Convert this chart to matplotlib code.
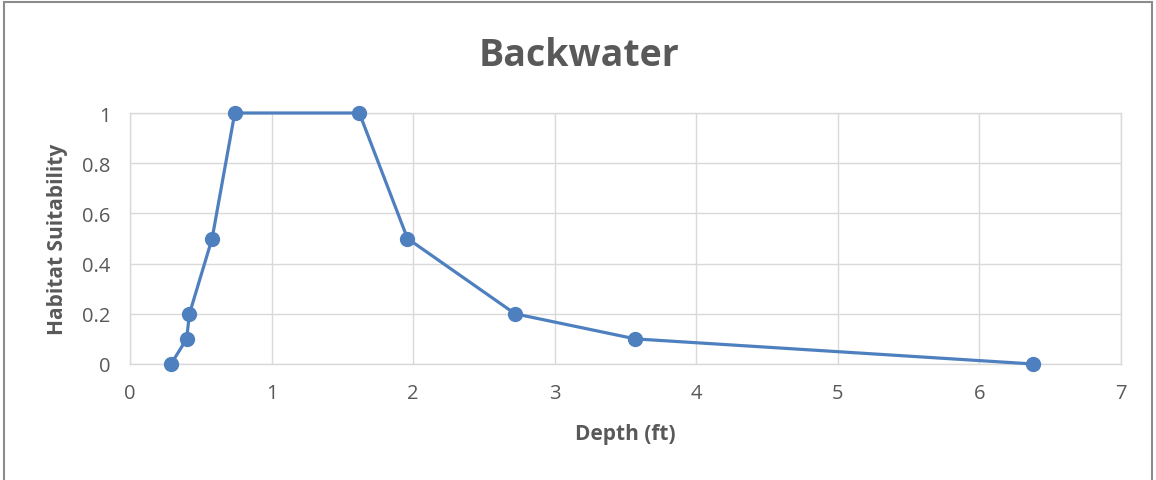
import matplotlib
matplotlib.use("Agg")
import matplotlib.pyplot as plt
from matplotlib.patches import Rectangle

# 수심 대비 서식 적합도 (Backwater)
depth_ft = [0.29, 0.40, 0.42, 0.58, 0.74, 1.62, 1.96, 2.72, 3.57, 6.38]
suitability = [0.0, 0.1, 0.2, 0.5, 1.0, 1.0, 0.5, 0.2, 0.1, 0.0]
x_ticks = [0, 1, 2, 3, 4, 5, 6, 7]
y_ticks = [0, 0.2, 0.4, 0.6, 0.8, 1]
y_tick_labels = ["0", "0.2", "0.4", "0.6", "0.8", "1"]

LINE_C = "#4E80BF"
INK = "#595959"
GRID_C = "#D9D9D9"

plt.rcParams["font.family"] = ["Open Sans", "DejaVu Sans"]

W, H = 1156, 481
fig = plt.figure(figsize=(W / 100, H / 100), dpi=100, facecolor="white")
ax = fig.add_axes([130 / W, 1 - 365 / H, (1121 - 130) / W, (365 - 114) / H])

# 바깥 테두리 (하단은 잘린 상태)
fig.patches.append(Rectangle((4 / W, -0.05), (1152 - 4) / W, 1.05 - 3 / H,
                             transform=fig.transFigure, fill=False,
                             edgecolor="#8C8C8C", linewidth=1.5))

ax.plot(depth_ft, suitability, color=LINE_C, linewidth=2.3, marker="o",
        markersize=10, markerfacecolor=LINE_C, markeredgecolor=LINE_C,
        zorder=3, clip_on=False)

ax.set_xlim(0, 7)
ax.set_ylim(0, 1)
ax.set_xticks(x_ticks)
ax.set_yticks(y_ticks)
ax.set_yticklabels(y_tick_labels)
ax.grid(True, color=GRID_C, linewidth=1)
ax.set_axisbelow(True)
for s in ax.spines.values():
    s.set_color(GRID_C)
    s.set_linewidth(1)
ax.tick_params(length=0, labelsize=14.5, labelcolor=INK)
ax.tick_params(axis="y", pad=14)
ax.tick_params(axis="x", pad=14)

# 축 제목 — 픽셀 위치 고정
fig.text(625 / W, 1 - 435 / H, "Depth (ft)", ha="center", va="center",
         fontsize=15, fontweight="bold", color=INK)
fig.text(57 / W, 1 - 239 / H, "Habitat Suitability", ha="center", va="center",
         rotation=90, fontsize=15, fontweight="bold", color=INK)
fig.text(579 / W, 1 - 56 / H, "Backwater", ha="center", va="center",
         fontsize=27, fontweight="bold", color=INK)

fig.savefig("out.png", dpi=100, facecolor="white")
